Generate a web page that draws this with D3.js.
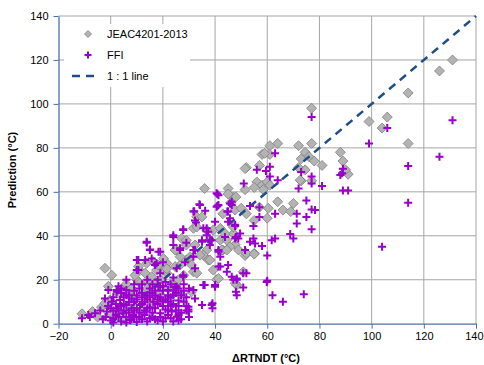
<!DOCTYPE html>
<html>
<head>
<meta charset="utf-8">
<script src="https://cdn.jsdelivr.net/npm/d3@7/dist/d3.min.js"></script>
<style>
  body { margin: 0; background: #fff; }
  text { font-family: "Liberation Sans", Arial, sans-serif; }
</style>
</head>
<body>
<svg id="chart" width="484" height="365"></svg>
<script>
// axis ticks
const xTicks = [-20, 0, 20, 40, 60, 80, 100, 120, 140];
const yTicks = [0, 20, 40, 60, 80, 100, 120, 140];

// JEAC4201-2013 predictions [dRTNDT, prediction]
const jeac = [
  [131,120],[126,115],[114,105],[77,98],[99,92],[106,94],[104,89],[114,82],[88,78],[89,74],[91,68],[90,70],
  [61,81],[64,82],[58,77],[61,77],[72,81],[77,82],[74.5,78],[76,76],[73,75],[78,74],[72,71],[81,72],
  [74.5,70],[73,65],[77,65],[52,71],[57,72],[56,64.5],[58,63],[60,64.5],[61,63],[55,62],[51.5,61],
  [58.5,61],[59,77.5],[51.5,70.6],[72.6,65.3],[45,61.5],[47,57.7],[36,61.5],
  [64,55.5],[70,54.7],[66,51.7],[69,51],[60.4,52.5],[57,53],[60,48],[55,47],[52,50],[48,57.7],[47.7,51.7],
  [50,52.5],[47,41],[47.7,36],[55,32],[51.5,31],[45,59],[46,55],[43,50],[33,48.6],[35,48.6],[31.7,43.4],
  [39.3,42.6],[42,43.4],[27.2,38.8],[29,35.8],[25.3,33.5],[36.8,33.5],[42,38],[44.5,38],[45.7,35],
  [43,33.5],[49,33.5],[47,44],[43.8,41],[33,44],[36.8,42.6],[38,38],[29,38],[32.3,35.8],[35.5,31.2],
  [37.4,29],[40.6,20],[39.3,24.4],[42.6,33.5],[26.6,26.7],[24.7,33.5],[29,29],[31.7,23.6],
  [26.6,30.5],[30.4,30.5],[34.2,31.2],[38,29],[21.5,27.5],[24.7,26],[20.2,24.4],[31,26.7],[33,23],
  [41.3,20.6],[24,19],[21.5,23],[26.6,13.8],[31,14.5],[48.3,17.6],[50.8,23.6],[47.7,18.4],[52,32],
  [55,31.7],[44.5,33.5],[22.7,10.8],
  [-2.2,25.2],[0.4,22.1],[-0.9,17],[-11,4.5],[-7,5.5],[-3.5,7.5],[10,20],[11,24.4],[13.8,27.5],
  [16.3,28.2],[20.2,29.7],[17.6,24.4],[21.5,25],[13.8,18.4],[10.6,26],[9.3,22],[13.2,23],[18.3,26.7],
  [15.7,21.4],[11.2,18.4],[17,18.4],[5.5,15.3],[2.9,13.8],[-0.3,10.8],[-2.2,9.3],[13.2,14.5],
  [3,5],[7,8],[12,6],[16,9],[20,12],[8,12],[22,16],[25,18],[18,14],[5,2],[0,4],[-5,3],[28,22],
  [26,20],[19,20],[14,16],[6,18],[8,16]
];

// FFI predictions [dRTNDT, prediction]
const ffi = [
  [77,94],[106,89],[131,92.6],[99,82],[126,76],[114,71.7],[114,55],[104,35],[89,60.6],[91,60.6],
  [89,70.5],[88,67.6],[88.7,68.5],
  [63,77.5],[61,71.4],[56,70],[59.5,69.5],[61,67],[64,65.3],[51,63.8],[73,69],[77,67],[77,63.8],
  [72,61.5],[81,62.6],[75,56],[71.3,50],[75,48.6],[77,52],[78.3,51.7],[71.3,45.6],[77,43],[68.8,40.8],
  [70,38.8],[63,50],[57,53],[57,48.6],[53.4,53.5],[54.7,44.4],[63,38.8],[61.7,38],[54.7,38.8],
  [53.4,37.3],[55.3,36.5],[58,35.3],[60,31],[51.5,33.5],[48,39.5],[49.6,41],[47.7,44.4],[46.4,55.5],
  [45.7,48],
  [52,23],[60,19.5],[48.3,20],[50.8,16.5],[48,14.5],[62,13],[66,10],[74,13.4],
  [31.7,30.5],[42,30.5],[41.3,26],[45,26.7],[44.5,23.6],[46.4,21.4],[28.5,28],[27.8,22],[35.5,17.6],
  [40,16.8],[31.7,15.3],[32.3,11.5],[35,8.5],[39,9.3],[39,7],[29.8,6.5],[26,4],[24.7,16.8],[59.8,19],
  [40.9,59],[34,54.4],[36.2,51.4],[32,51.2],[40.9,53.5],[32.7,46],[27.8,43],[24,40.3],[13.8,36.8],
  [15.1,33.8],[19,32.7],[24,35.8],[26.6,34.3],[29,36.8],[35.5,43.4],[37.4,41.8],[36.8,40.3],[38,38],
  [35,37.3],[40,46.4],[38,35.8],[32.3,33.5],[41.3,33.5],[45.7,54.7],[44.7,51],[45,46.4],[47.7,45],
  [47.7,38.8],[13.8,37.3],[15,33.5],[18.3,32.7],[10,29],[10.6,24.4],[13.2,29],[17,26.7],[19,23],
  [24,39.5],[26.6,33.5],[27.8,42.6],[25.3,25.2],[26,16],[27.8,21.4],[31.7,51],[34.2,54],[32.3,47],
  [35,38],[31.7,33.5],[32.3,25.2],[29.8,7.7],[29.8,5.5],[38.7,8.5],[40,17.6],[41.3,58.5],[41.3,54],
  [45,51],[46.4,54],[43.8,39.5],[41.3,32.7],[47,20],[48.9,38.8],[42,26],[40.6,59.3],[40.6,53.2],
  [36.8,43.4],[38.7,38],[36,17.6],[48.3,13],[50.8,23],[48.3,20.6],
  [-11,2.5],[-8,3],[-6,4.7],[-0.9,15.3],[2.3,15.3],[-2.2,11.5],[6,15.3],[0.4,10],[10,13],[13.8,13],
  [18.3,16.8],[22,15.3],[25.3,16.8],[24,13],[22,10],[16.3,10],[11.2,8.5],[6,8.5],[2.3,7],[-1.5,5.5],
  [4.8,4.7],[8.7,4],[13.8,5.5],[19,4.7],[23.4,5.5],[25.3,3.2],[15,2.5],[7.4,1.7],[1,2.5],[3.6,10.8],
  [8,11.5],[10.6,29],[15.7,29.7],[17.6,27.5],[10,24.4],[20,28],[2.3,14.5],[-8.6,4],[-3,2],[1,0.5],
  [4,1],[10,0.8],[12,2],[18,1.5],[21,2.5],[24,1],[27,2],[3,6],[6,3],[9,6],[12,9],[14,7],[17,7],
  [20,8],[22,6],[26,8],[28,10],[5,12],[9,10],[12,12],[16,14],[19,12],[21,11],[24,9],[27,13],[2,9],
  [0,7],[-4,6],[-2,3],[7,13],[11,16],[14,11],[17,13],[20,15],[23,18],[29,12],[30,16],[28,18],[2,4],
  [5,6],[8,2],[13,4],[16,5],[19,3],[22,4],[25,6],[27,5],
  [0,1.5],[3,3],[6,0.5],[9,3],[11,5],[15,7.5],[18,9],[21,6.5],[23,8],[26,10.5],[29,8],[4,8],[7,5],
  [10,7],[13,10],[15,12],[18,11],[20,10],[23,12],[25,14],[1,12],[4,14],[7,10],[10,11],[12,14],[15,16],
  [17,15],[20,17],[3,17],[6,13],[9,15],[14,1],[16,3],[20,1],[23,2.5],[26,1.5],[-1,8],[1,6],[5,9],
  [8,7],[11,3],[13,6],[17,2],[22,13],[24,15],[28,15],[29,6],[30,3],[12,18],[16,18],[19,17],[21,19],
  [24,21],[18,20],[14,20],[9,18],[6,20],[4,16]
];

// 1:1 reference line
const oneToOne = [[0, 0], [140, 140]];

const svg = d3.select('#chart');
const plotLeft = 58.5, plotRight = 476, plotTop = 16, plotBottom = 323.7;

const x = d3.scaleLinear().domain([-20, 140]).range([plotLeft, plotRight]);
const y = d3.scaleLinear().domain([0, 140]).range([plotBottom, plotTop]);

// grid
const grid = svg.append('g').attr('class', 'grid');
grid.selectAll('line.v').data(xTicks.slice(1)).enter().append('line')
  .attr('x1', d => x(d)).attr('x2', d => x(d))
  .attr('y1', plotTop).attr('y2', plotBottom)
  .attr('stroke', '#a6a6a6').attr('stroke-width', 1);
grid.selectAll('line.h').data(yTicks.slice(1)).enter().append('line')
  .attr('x1', plotLeft).attr('x2', plotRight)
  .attr('y1', d => y(d)).attr('y2', d => y(d))
  .attr('stroke', '#a6a6a6').attr('stroke-width', 1);

// axes
const xAxis = d3.axisBottom(x).tickValues(xTicks).tickSize(5).tickSizeOuter(0).tickPadding(4);
const yAxis = d3.axisLeft(y).tickValues(yTicks).tickSize(5).tickSizeOuter(0).tickPadding(5);

const gx = svg.append('g').attr('transform', `translate(0,${plotBottom})`).call(xAxis);
const gy = svg.append('g').attr('transform', `translate(${plotLeft},0)`).call(yAxis);
[gx, gy].forEach(g => {
  g.select('.domain').attr('stroke', '#4a72a8').attr('stroke-width', 1.3);
  g.selectAll('.tick line').attr('stroke', '#4a72a8');
  g.selectAll('.tick text').attr('fill', '#000').style('font-size', '11px')
    .style('font-family', '"Liberation Sans", Arial, sans-serif');
});
// last x label sits against the right edge, as in the original
gx.selectAll('.tick text').filter(d => d === 140).attr('text-anchor', 'end').attr('dx', '7');

// series
const diamond = 'M0,-5L5,0L0,5L-5,0Z';
const plus = 'M-4,0H4M0,-4V4';

svg.append('g').selectAll('path').data(jeac).enter().append('path')
  .attr('d', diamond)
  .attr('transform', d => `translate(${x(d[0])},${y(d[1])})`)
  .attr('fill', '#b3b3b3').attr('stroke', '#7f7f7f').attr('stroke-width', 0.8);

svg.append('path')
  .datum(oneToOne)
  .attr('d', d3.line().x(d => x(d[0])).y(d => y(d[1])))
  .attr('fill', 'none').attr('stroke', '#1f4e85').attr('stroke-width', 2.5)
  .attr('stroke-dasharray', '8,6');

svg.append('g').selectAll('path').data(ffi).enter().append('path')
  .attr('d', plus)
  .attr('transform', d => `translate(${x(d[0])},${y(d[1])})`)
  .attr('fill', 'none').attr('stroke', '#9900cc').attr('stroke-width', 2);

// legend
const lg = svg.append('g');
lg.append('rect').attr('x', 64).attr('y', 24).attr('width', 126).attr('height', 63).attr('fill', '#fff');
lg.append('path').attr('d', 'M0,-3.5L3.5,0L0,3.5L-3.5,0Z')
  .attr('transform', 'translate(88,34)')
  .attr('fill', '#b3b3b3').attr('stroke', '#7f7f7f').attr('stroke-width', 0.8);
lg.append('path').attr('d', 'M-3.5,0H3.5M0,-3.5V3.5')
  .attr('transform', 'translate(88,55)')
  .attr('fill', 'none').attr('stroke', '#9900cc').attr('stroke-width', 2);
lg.append('line').attr('x1', 72).attr('x2', 100).attr('y1', 76).attr('y2', 76)
  .attr('stroke', '#1f4e85').attr('stroke-width', 2.5).attr('stroke-dasharray', '8,6');
const legendLabels = ['JEAC4201-2013', 'FFI', '1 : 1 line'];
lg.selectAll('text').data(legendLabels).enter().append('text')
  .attr('x', 107).attr('y', (d, i) => 38 + i * 21)
  .style('font-size', '11px').text(d => d);

// axis titles
svg.append('text').attr('x', 266).attr('y', 362).attr('text-anchor', 'middle')
  .style('font-size', '11px').style('font-weight', 'bold').text('ΔRTNDT (°C)');
svg.append('text').attr('transform', 'translate(16,170) rotate(-90)').attr('text-anchor', 'middle')
  .style('font-size', '11px').style('font-weight', 'bold').text('Prediction (°C)');
</script>
</body>
</html>
